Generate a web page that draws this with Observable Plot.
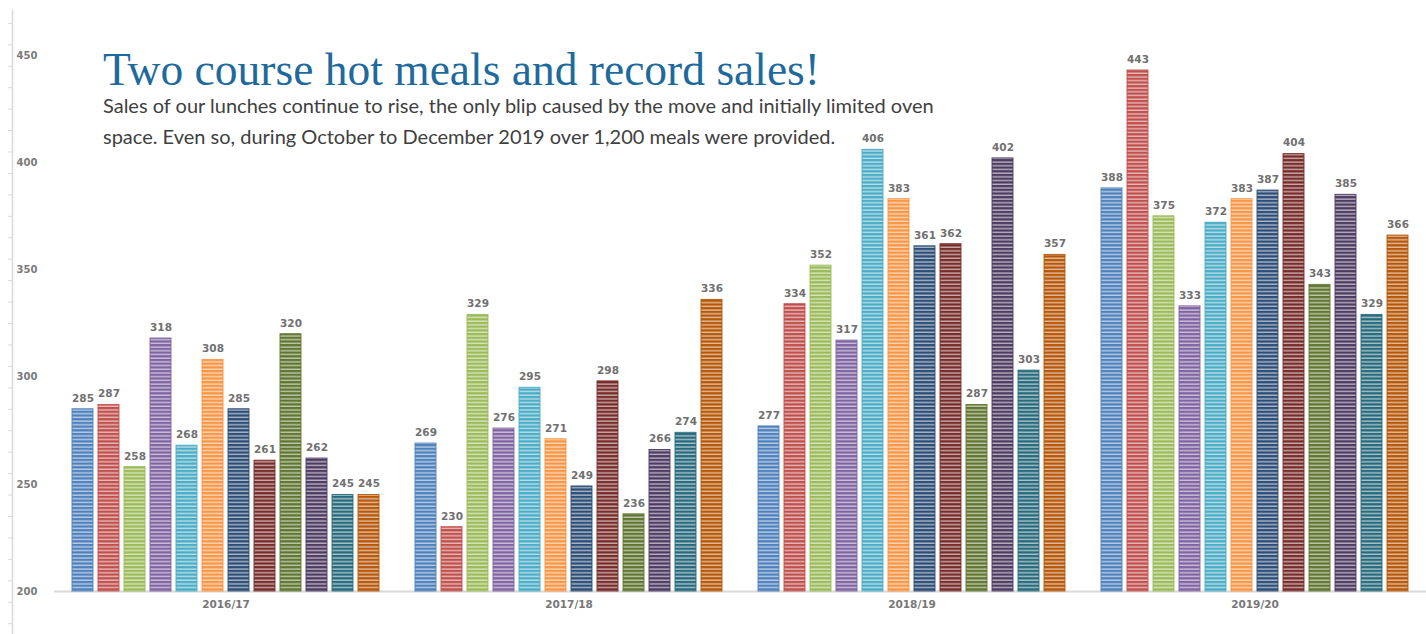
<!DOCTYPE html>
<html>
<head>
<meta charset="utf-8">
<script src="https://cdn.jsdelivr.net/npm/d3@7"></script>
<script src="https://cdn.jsdelivr.net/npm/@observablehq/plot@0.6"></script>
<style>
  html, body { margin: 0; padding: 0; background: #fff; }
  #wrap { position: relative; width: 1426px; height: 634px; overflow: hidden; }
  #title { position: absolute; left: 103px; top: 43px; font-family: "Liberation Serif", serif; font-size: 45.5px; color: #1f6a9c; white-space: nowrap; }
  #sub { position: absolute; left: 103px; top: 90px; font-family: Lato, sans-serif; font-size: 20px; line-height: 31px; color: #404040; white-space: nowrap; }
</style>
</head>
<body>
<div id="wrap">
  <div id="chart"></div>
  <div id="title">Two course hot meals and record sales!</div>
  <div id="sub">Sales of our lunches continue to rise, the only blip caused by the move and initially limited oven<br>space. Even so, during October to December 2019 over 1,200 meals were provided.</div>
</div>
<script>
const years = ["2016/17", "2017/18", "2018/19", "2019/20"];
const months = ["Sep", "Oct", "Nov", "Dec", "Jan", "Feb", "Mar", "Apr", "May", "Jun", "Jul", "Aug"];
const sales2016 = [285, 287, 258, 318, 268, 308, 285, 261, 320, 262, 245, 245];
const sales2017 = [269, 230, 329, 276, 295, 271, 249, 298, 236, 266, 274, 336];
const sales2018 = [277, 334, 352, 317, 406, 383, 361, 362, 287, 402, 303, 357];
const sales2019 = [388, 443, 375, 333, 372, 383, 387, 404, 343, 385, 329, 366];
const yTickLabels = [200, 250, 300, 350, 400, 450];
const colors = ["#4F81BD", "#C0504D", "#9BBB59", "#8064A2", "#4BACC6", "#F79646",
                "#2C4D75", "#772C2A", "#5F7530", "#4D3B62", "#276A7C", "#B65708"];

const series = [sales2016, sales2017, sales2018, sales2019];
const data = [];
years.forEach((yr, i) => series[i].forEach((v, j) => data.push({year: yr, month: months[j], value: v})));
const minorTicks = d3.range(185, 470, 10);

const chart = Plot.plot({
  width: 1426,
  height: 634,
  marginTop: 55,
  marginBottom: 43,
  marginLeft: 53,
  marginRight: 0,
  style: {fontFamily: "DejaVu Sans, sans-serif", background: "transparent"},
  fx: {domain: years, padding: 0, label: null},
  x: {domain: months, paddingInner: 0.19, paddingOuter: 0.6, axis: null},
  y: {domain: [200, 450], axis: null},
  color: {type: "ordinal", domain: months, range: months.map((m, i) => `url(#pat${i})`)},
  marks: [
    Plot.frame({anchor: "left", dx: -42, insetTop: -45, insetBottom: -43, stroke: "#d9d9d9", strokeWidth: 1.5, facetAnchor: "left"}),
    Plot.axisY({ticks: minorTicks, tickSize: 4, tickFormat: () => "", anchor: "left", dx: -42, stroke: "#d9d9d9", label: null}),
    Plot.axisY({ticks: yTickLabels, tickSize: 0, tickPadding: 0, textAnchor: "start", dx: -38, anchor: "left", fontSize: 10, fill: "#7a7a7a", fontWeight: "bold", label: null}),
    Plot.ruleY([200], {stroke: "#d9d9d9", strokeWidth: 2}),
    Plot.barY(data, {fx: "year", x: "month", y1: 200, y2: "value", fill: "month", stroke: (d) => colors[months.indexOf(d.month)], strokeWidth: 1, strokeOpacity: 0.9}),
    Plot.text(data, {fx: "year", x: "month", y: "value", text: (d) => String(d.value), dy: -11, fill: "#707070", fontSize: 10.5, fontWeight: "bold", letterSpacing: "0.8px"}),
    Plot.axisFx({anchor: "bottom", tickSize: 0, tickPadding: 9, fontSize: 10.5, fill: "#777", fontWeight: "bold", label: null})
  ]
});

// stripe patterns for the bars
const ns = "http://www.w3.org/2000/svg";
const defs = document.createElementNS(ns, "defs");
colors.forEach((c, i) => {
  const p = document.createElementNS(ns, "pattern");
  p.setAttribute("id", `pat${i}`);
  p.setAttribute("patternUnits", "userSpaceOnUse");
  p.setAttribute("width", 8);
  p.setAttribute("height", 3.7);
  const r1 = document.createElementNS(ns, "rect");
  r1.setAttribute("width", 8); r1.setAttribute("height", 3.7); r1.setAttribute("fill", c);
  const r2 = document.createElementNS(ns, "rect");
  r2.setAttribute("width", 8); r2.setAttribute("y", 2.3); r2.setAttribute("height", 1.4);
  r2.setAttribute("fill", "#fff"); r2.setAttribute("fill-opacity", 0.6);
  p.appendChild(r1); p.appendChild(r2);
  defs.appendChild(p);
});
chart.insertBefore(defs, chart.firstChild);
document.getElementById("chart").appendChild(chart);
</script>
</body>
</html>
